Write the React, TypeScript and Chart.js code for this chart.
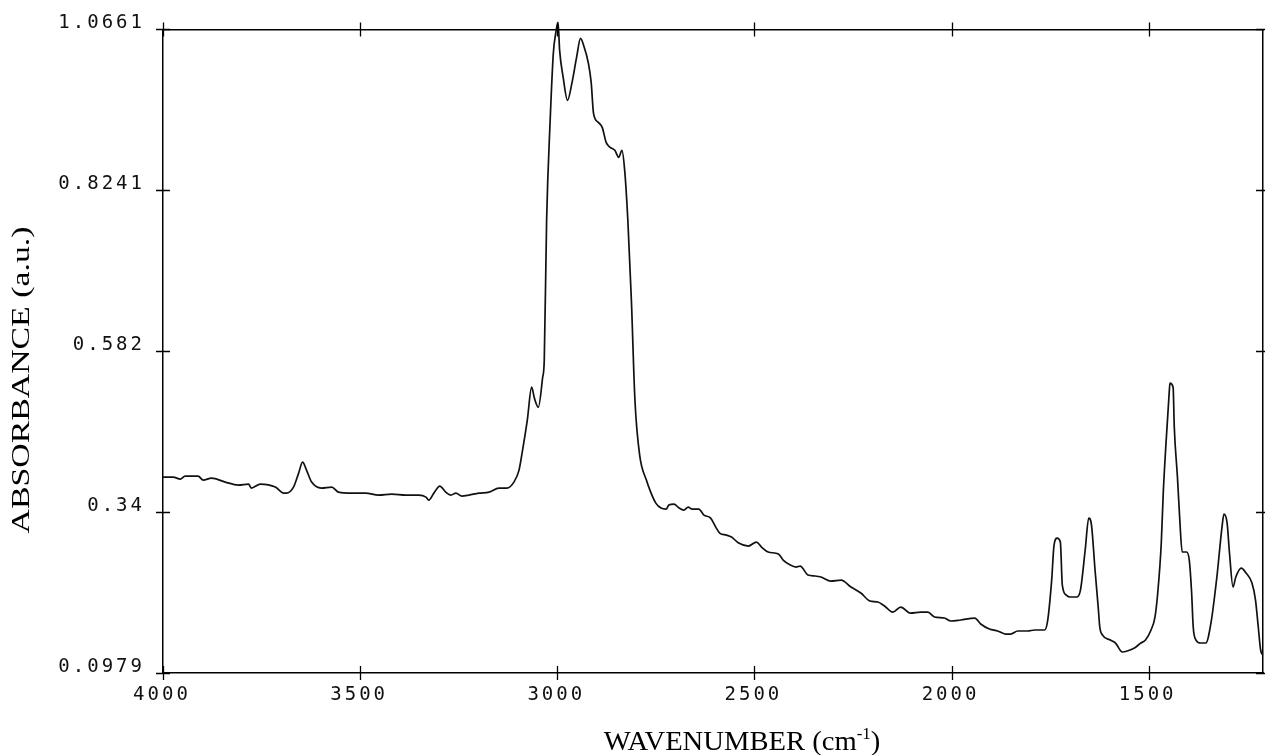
import React, { useEffect, useRef } from 'react';
import { Chart, registerables } from 'chart.js';

Chart.register(...registerables);

// ---- data ----
const wavenumbers: number[] = [
  4000, 3974, 3956, 3944, 3911, 3898, 3877, 3842, 3809, 3783, 3776, 3753, 3715, 3694, 3687, 3669,
  3656, 3646, 3636, 3623, 3598, 3572, 3555, 3522, 3486, 3453, 3420, 3384, 3351, 3333, 3326, 3313,
  3298, 3283, 3270, 3257, 3242, 3224, 3199, 3173, 3148, 3128, 3110, 3097, 3088, 3076, 3065, 3058,
  3048, 3037, 3033, 3027, 3018, 3010, 3004, 2998, 2994, 2985, 2974, 2963, 2951, 2941, 2933, 2921,
  2914, 2908, 2896, 2886, 2876, 2866, 2854, 2844, 2836, 2829, 2821, 2812, 2803, 2791, 2774, 2762,
  2750, 2737, 2724, 2717, 2704, 2691, 2679, 2668, 2658, 2641, 2628, 2611, 2598, 2588, 2571, 2558,
  2540, 2515, 2495, 2482, 2465, 2439, 2427, 2409, 2394, 2384, 2364, 2346, 2331, 2306, 2280, 2255,
  2230, 2207, 2187, 2170, 2149, 2129, 2104, 2078, 2060, 2043, 2018, 2002, 1977, 1941, 1926, 1904,
  1883, 1863, 1850, 1832, 1807, 1789, 1764, 1756, 1746, 1740, 1732, 1724, 1719, 1709, 1699, 1683,
  1673, 1661, 1652, 1645, 1636, 1628, 1624, 1617, 1597, 1584, 1567, 1554, 1536, 1520, 1508, 1494,
  1484, 1477, 1468, 1463, 1456, 1448, 1446, 1438, 1435, 1427, 1421, 1415, 1404, 1397, 1391, 1387,
  1380, 1368, 1355, 1342, 1327, 1314, 1309, 1301, 1295, 1286, 1279, 1265, 1253, 1238, 1229, 1222,
  1216, 1211,
];

const absorbance: number[] = [
  0.3926, 0.3926, 0.3896, 0.3941, 0.3941, 0.3881, 0.3911, 0.3851, 0.3806, 0.3821, 0.3761, 0.3821, 0.3776, 0.3685, 0.3685, 0.3776,
  0.3986, 0.4151, 0.4031, 0.3851, 0.3761, 0.3776, 0.37, 0.3685, 0.3685, 0.3655, 0.367, 0.3655, 0.3655, 0.3625, 0.358, 0.3685,
  0.3791, 0.37, 0.3655, 0.3685, 0.364, 0.3655, 0.3685, 0.37, 0.3761, 0.3761, 0.3851, 0.4031, 0.4332, 0.4783, 0.5279, 0.5114,
  0.4978, 0.5429, 0.5685, 0.779, 0.9293, 1.03, 1.0601, 1.0766, 1.0345, 0.9939, 0.9594, 0.9849, 1.024, 1.0526, 1.042, 1.015,
  0.9864, 0.9398, 0.9263, 0.9188, 0.8962, 0.8887, 0.8842, 0.8737, 0.8842, 0.8541, 0.779, 0.6587, 0.5083, 0.4257, 0.3881, 0.3685,
  0.3535, 0.346, 0.3445, 0.3505, 0.352, 0.346, 0.343, 0.3475, 0.3445, 0.3445, 0.3355, 0.331, 0.3174, 0.3084, 0.3054, 0.3024,
  0.2934, 0.2889, 0.2949, 0.2874, 0.2799, 0.2769, 0.2678, 0.2603, 0.2573, 0.2588, 0.2453, 0.2438, 0.2423, 0.2362, 0.2377, 0.2272,
  0.2182, 0.2062, 0.2047, 0.1986, 0.1896, 0.1971, 0.1881, 0.1896, 0.1896, 0.1821, 0.1806, 0.1761, 0.1776, 0.1806, 0.1716, 0.1641,
  0.1611, 0.1565, 0.1565, 0.1611, 0.1611, 0.1626, 0.1626, 0.1776, 0.2377, 0.2904, 0.3009, 0.2949, 0.2302, 0.2152, 0.2122, 0.2122,
  0.2227, 0.2829, 0.331, 0.3204, 0.2528, 0.1971, 0.1671, 0.155, 0.1475, 0.143, 0.1295, 0.131, 0.1355, 0.143, 0.1475, 0.1626,
  0.1821, 0.2182, 0.2934, 0.3685, 0.4437, 0.5189, 0.5339, 0.5279, 0.4677, 0.3926, 0.3279, 0.2799, 0.2799, 0.2678, 0.2182, 0.1671,
  0.1475, 0.143, 0.143, 0.1731, 0.2423, 0.3174, 0.337, 0.3234, 0.2784, 0.2272, 0.2423, 0.2558, 0.2483, 0.2332, 0.2077, 0.1671,
  0.1325, 0.125,
];

const xTickValues: number[] = [4000, 3500, 3000, 2500, 2000, 1500];
const xTickLabels: string[] = ['4000', '3500', '3000', '2500', '2000', '1500'];
const yTickValues: number[] = [1.0661, 0.8241, 0.582, 0.34, 0.0979];
const yTickLabels: string[] = ['1.0661', '0.8241', '0.582', '0.34', '0.0979'];

const xMin = 1210;
const xMax = 4000;
const yMin = 0.0979;
const yMax = 1.0661;

const xTitleMain = 'WAVENUMBER (cm';
const xTitleSup = '-1';
const xTitleEnd = ')';
const yTitle = 'ABSORBANCE (a.u.)';

// ---- layout / style ----
const W = 1265;
const H = 755;
const AREA = { left: 163, top: 29, right: 1263, bottom: 673 };
const TICK_FONT = { family: "'DejaVu Sans Mono', 'Liberation Mono', monospace", size: 19 };
const SERIF = "'Liberation Serif', 'Times New Roman', serif";

export default function App() {
  const ref = useRef<HTMLCanvasElement | null>(null);

  useEffect(() => {
    const canvas = ref.current;
    if (!canvas) return;

    const letterSpacingPlugin = {
      id: 'plotterSpacing',
      beforeDraw(chart: any) {
        (chart.ctx as any).letterSpacing = '3px';
      },
      afterDatasetsDraw(chart: any) {
        (chart.ctx as any).letterSpacing = '0px';
      },
    };

    const frameTicksPlugin = {
      id: 'frameTicks',
      afterDraw(chart: any) {
        const ctx: CanvasRenderingContext2D = chart.ctx;
        const { left, right, top, bottom } = chart.chartArea;
        const xs = chart.scales.x;
        const ys = chart.scales.y;
        const len = 7;
        ctx.save();
        (ctx as any).letterSpacing = '0px';
        ctx.strokeStyle = '#000';
        ctx.lineWidth = 1.3;
        ctx.beginPath();
        xTickValues.forEach((v) => {
          const px = Math.round(xs.getPixelForValue(v)) + 0.5;
          ctx.moveTo(px, bottom - len);
          ctx.lineTo(px, bottom + len);
          ctx.moveTo(px, top - len);
          ctx.lineTo(px, top + len);
        });
        yTickValues.forEach((v) => {
          const py = Math.round(ys.getPixelForValue(v)) + 0.5;
          ctx.moveTo(left - len, py);
          ctx.lineTo(left + len, py);
          ctx.moveTo(right - len, py);
          ctx.lineTo(right + len, py);
        });
        ctx.stroke();

        // x axis title with superscript
        ctx.fillStyle = '#000';
        ctx.textAlign = 'left';
        ctx.textBaseline = 'alphabetic';
        ctx.font = `27px ${SERIF}`;
        const w1 = ctx.measureText(xTitleMain).width;
        const w3 = ctx.measureText(xTitleEnd).width;
        ctx.font = `16px ${SERIF}`;
        const w2 = ctx.measureText(xTitleSup).width;
        const total = w1 + w2 + w3;
        ctx.save();
        ctx.translate(742, 750);
        ctx.scale(1.06, 1);
        let x = -total / 2;
        ctx.font = `27px ${SERIF}`;
        ctx.fillText(xTitleMain, x, 0);
        x += w1;
        ctx.font = `16px ${SERIF}`;
        ctx.fillText(xTitleSup, x, -11);
        x += w2;
        ctx.font = `27px ${SERIF}`;
        ctx.fillText(xTitleEnd, x, 0);
        ctx.restore();

        // y axis title, rotated
        ctx.save();
        ctx.translate(29, 380);
        ctx.rotate(-Math.PI / 2);
        ctx.scale(1.3, 1);
        ctx.font = `26px ${SERIF}`;
        ctx.textAlign = 'center';
        ctx.textBaseline = 'alphabetic';
        ctx.fillText(yTitle, 0, 0);
        ctx.restore();

        ctx.restore();
      },
    };

    const setXTicks = (s: any) => {
      s.ticks = xTickValues.map((v) => ({ value: v }));
    };
    const setYTicks = (s: any) => {
      s.ticks = yTickValues.map((v) => ({ value: v }));
    };
    const border = { display: true, color: '#000', width: 1.5 };

    const chart = new Chart(canvas, {
      type: 'line',
      data: {
        datasets: [
          {
            data: wavenumbers.map((w, i) => ({ x: w, y: absorbance[i] })),
            borderColor: '#111',
            borderWidth: 1.7,
            pointRadius: 0,
            fill: false,
            cubicInterpolationMode: 'monotone',
            clip: false,
          } as any,
        ],
      },
      options: {
        responsive: false,
        animation: false,
        maintainAspectRatio: false,
        layout: { padding: 0 },
        plugins: { legend: { display: false }, tooltip: { enabled: false }, title: { display: false } },
        scales: {
          x: {
            type: 'linear',
            position: 'bottom',
            reverse: true,
            min: xMin,
            max: xMax,
            afterBuildTicks: setXTicks,
            afterFit: (s: any) => {
              s.height = H - AREA.bottom;
            },
            grid: { display: false, drawTicks: false },
            border,
            ticks: {
              color: '#111',
              font: TICK_FONT,
              padding: 11,
              labelOffset: -1,
              maxRotation: 0,
              autoSkip: false,
              callback: (v: any) => xTickLabels[xTickValues.indexOf(Number(v))] ?? '',
            },
          },
          x2: {
            type: 'linear',
            position: 'top',
            reverse: true,
            min: xMin,
            max: xMax,
            afterBuildTicks: setXTicks,
            afterFit: (s: any) => {
              s.height = AREA.top;
            },
            grid: { display: false, drawTicks: false },
            border,
            ticks: { display: false },
          },
          y: {
            type: 'linear',
            position: 'left',
            min: yMin,
            max: yMax,
            afterBuildTicks: setYTicks,
            afterFit: (s: any) => {
              s.width = AREA.left;
            },
            grid: { display: false, drawTicks: false },
            border,
            ticks: {
              color: '#111',
              font: TICK_FONT,
              padding: 18,
              labelOffset: -6,
              autoSkip: false,
              callback: (v: any) => yTickLabels[yTickValues.indexOf(Number(v))] ?? '',
            },
          },
          y2: {
            type: 'linear',
            position: 'right',
            min: yMin,
            max: yMax,
            afterBuildTicks: setYTicks,
            afterFit: (s: any) => {
              s.width = W - AREA.right;
            },
            grid: { display: false, drawTicks: false },
            border,
            ticks: { display: false },
          },
        },
      } as any,
      plugins: [letterSpacingPlugin, frameTicksPlugin],
    });

    return () => {
      chart.destroy();
    };
  }, []);

  return (
    <div style={{ position: 'fixed', left: 0, top: 0, width: W, height: H, background: '#fff' }}>
      <canvas ref={ref} width={W} height={H} style={{ display: 'block', width: W, height: H }} />
    </div>
  );
}
